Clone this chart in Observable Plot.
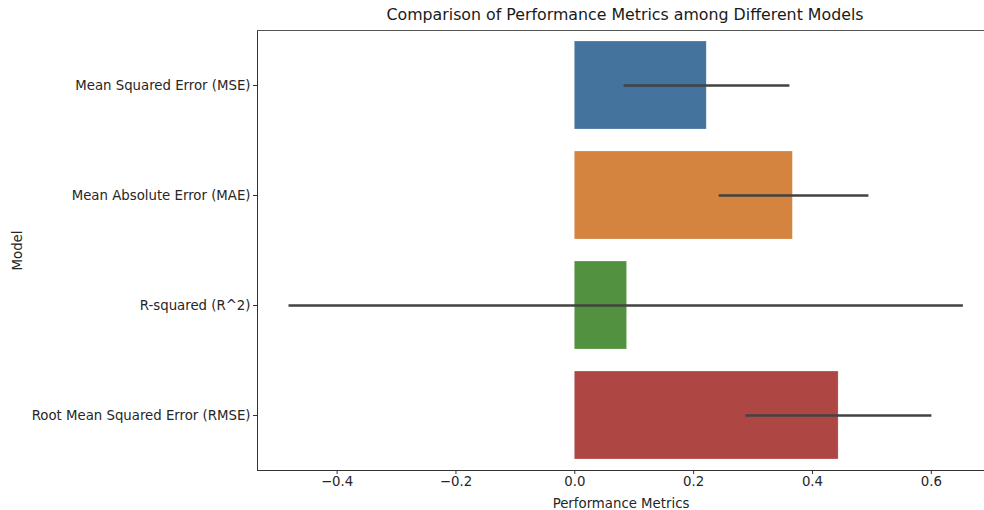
<!DOCTYPE html>
<html>
<head>
<meta charset="utf-8">
<script src="https://cdn.jsdelivr.net/npm/d3@7"></script>
<script src="https://cdn.jsdelivr.net/npm/@observablehq/plot@0.6"></script>
<style>
  html, body { margin: 0; padding: 0; background: #fff; overflow: hidden; }
  body { width: 984px; height: 510px; font-family: "DejaVu Sans", sans-serif; }
  #title { box-sizing: border-box; width: 984px; height: 24px; padding-left: 266px; padding-top: 6px;
           text-align: center; font-size: 15.8px; line-height: 18px; color: #1a1a1a; white-space: nowrap; }
</style>
</head>
<body>
<div id="title">Comparison of Performance Metrics among Different Models</div>
<div id="chart"></div>
<script>
const models = ["Mean Squared Error (MSE)", "Mean Absolute Error (MAE)", "R-squared (R^2)", "Root Mean Squared Error (RMSE)"];
const values = [0.222, 0.367, 0.088, 0.444];
const ciLow  = [0.083, 0.243, -0.481, 0.288];
const ciHigh = [0.362, 0.495, 0.654, 0.601];
const colors = ["#44739d", "#d4843f", "#52913f", "#ae4744"];
const xTicks = [-0.4, -0.2, 0.0, 0.2, 0.4, 0.6];

const data = models.map((m, i) => ({model: m, value: values[i], lo: ciLow[i], hi: ciHigh[i]}));
const xMin = -0.534, xMax = 0.6895;

const fmt = d => (d < 0 ? "\u2212" : "") + Math.abs(d).toFixed(1);

const chart = Plot.plot({
  width: 984,
  height: 486,
  marginTop: 6,
  marginBottom: 40,
  marginLeft: 257,
  marginRight: 0,
  style: {fontFamily: "DejaVu Sans, sans-serif", fontSize: "13.3px", color: "#262626", background: "#fff"},
  x: {domain: [xMin, xMax], ticks: xTicks, tickFormat: fmt, label: "Performance Metrics", labelAnchor: "center", labelArrow: "none"},
  y: {domain: models, paddingInner: 0.2, paddingOuter: 0.1, label: "Model", labelArrow: "none"},
  color: {domain: models, range: colors},
  marks: [
    Plot.barX(data, {y: "model", x1: 0, x2: "value", fill: "model", stroke: "#ffffff", strokeOpacity: 0.4, strokeWidth: 0.6}),
    Plot.ruleY(data, {y: "model", x1: "lo", x2: "hi", stroke: "#424242", strokeWidth: 2.6}),
    Plot.axisX({ticks: xTicks, tickFormat: fmt, tickSize: 4, tickPadding: 2, stroke: "#333", fill: "#262626", label: "Performance Metrics", labelAnchor: "center", labelOffset: 37, labelArrow: "none", fontSize: 13.3}),
    Plot.axisY({tickSize: 4, tickPadding: 3, stroke: "#333", fill: "#262626", label: "Model", labelAnchor: "center", labelOffset: 245, labelArrow: "none", fontSize: 13.3}),
    Plot.frame({anchor: "left", stroke: "#333", strokeWidth: 1}),
    Plot.frame({anchor: "bottom", stroke: "#333", strokeWidth: 1}),
    Plot.frame({anchor: "top", stroke: "#555", strokeWidth: 1})
  ]
});
document.getElementById("chart").appendChild(chart);
</script>
</body>
</html>
